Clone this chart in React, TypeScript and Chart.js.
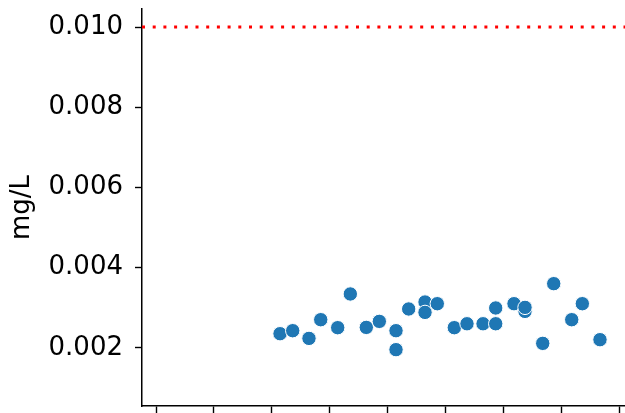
import React, { useEffect, useRef } from "react";
import { Chart, registerables } from "chart.js";

Chart.register(...registerables);

// x positions in tick units (unlabelled ticks at 0..8)
const X_VALUES = [
  2.142, 2.361, 2.642, 2.845, 3.138, 3.356, 3.632, 3.857, 4.145, 4.145,
  4.364, 4.646, 4.646, 4.858, 5.152, 5.371, 5.648, 5.867, 5.867, 6.183,
  6.373, 6.373, 6.679, 6.869, 7.18, 7.363, 7.668,
];
const Y_VALUES = [
  0.002356, 0.002431, 0.002239, 0.002705, 0.002506, 0.003346, 0.002513,
  0.002663, 0.002431, 0.001958, 0.002972, 0.003146, 0.002887, 0.003104,
  0.002506, 0.002604, 0.002604, 0.002997, 0.002604, 0.003104, 0.002912,
  0.003012, 0.002115, 0.003603, 0.002705, 0.003104, 0.002207,
];
const LIMIT = 0.01;
const X_TICKS = [0, 1, 2, 3, 4, 5, 6, 7, 8];
const Y_TICKS = [0.002, 0.004, 0.006, 0.008, 0.01];
const X_MIN = -0.242;
const X_MAX = 8.1;
const Y_MIN = 0.000554;
const Y_MAX = 0.010449;
const Y_LABEL = "mg/L";

const FONT = "'DejaVu Sans', sans-serif";

export default function App() {
  const ref = useRef<HTMLCanvasElement | null>(null);

  useEffect(() => {
    if (!ref.current) return;
    const points = X_VALUES.map((x, i) => ({ x, y: Y_VALUES[i] }));
    const chart = new Chart(ref.current, {
      type: "scatter",
      data: {
        datasets: [
          {
            type: "line",
            data: [
              { x: X_MIN, y: LIMIT },
              { x: X_MAX, y: LIMIT },
            ],
            borderColor: "#ff0000",
            borderWidth: 3,
            borderDash: [3, 7.7],
            borderCapStyle: "butt",
            pointRadius: 0,
            fill: false,
          } as any,
          {
            type: "scatter",
            data: points,
            backgroundColor: "#1f77b4",
            borderColor: "#ffffff",
            borderWidth: 1,
            pointRadius: 7.2,
            pointHoverRadius: 7.2,
          } as any,
        ],
      },
      options: {
        responsive: false,
        animation: false,
        events: [],
        layout: {
          autoPadding: false,
          padding: { top: 9, left: 0, right: 0, bottom: 0 },
        },
        plugins: {
          legend: { display: false },
          tooltip: { enabled: false },
        },
        scales: {
          x: {
            type: "linear",
            min: X_MIN,
            max: X_MAX,
            afterBuildTicks: (s: any) => {
              s.ticks = X_TICKS.map((v) => ({ value: v }));
            },
            afterFit: (s: any) => {
              s.height = 7;
              s.paddingLeft = 0;
              s.paddingRight = 0;
              s.paddingTop = 0;
              s.paddingBottom = 0;
            },
            ticks: { display: false },
            grid: {
              display: true,
              drawOnChartArea: false,
              drawTicks: true,
              tickLength: 7,
              tickColor: "#000000",
              tickWidth: 1.4,
            },
            border: { display: true, color: "#000000", width: 1.5 },
          },
          y: {
            type: "linear",
            min: Y_MIN,
            max: Y_MAX,
            afterBuildTicks: (s: any) => {
              s.ticks = Y_TICKS.map((v) => ({ value: v }));
            },
            afterFit: (s: any) => {
              s.width = 142;
              s.paddingTop = 0;
              s.paddingBottom = 0;
              s.paddingLeft = 0;
              s.paddingRight = 0;
            },
            ticks: {
              padding: 12,
              color: "#000000",
              font: { family: FONT, size: 26 },
              callback: (v: any) => Number(v).toFixed(3),
            },
            grid: {
              display: true,
              drawOnChartArea: false,
              drawTicks: true,
              tickLength: 7,
              tickColor: "#000000",
              tickWidth: 1.4,
            },
            border: { display: true, color: "#000000", width: 1.5 },
            title: {
              display: true,
              text: Y_LABEL,
              color: "#000000",
              font: { family: FONT, size: 26 },
              padding: { top: 7, bottom: 0 },
            },
          },
        },
      },
    });
    return () => chart.destroy();
  }, []);

  return (
    <div
      style={{
        position: "absolute",
        left: 0,
        top: 0,
        width: 625,
        height: 413,
        background: "#ffffff",
      }}
    >
      <canvas ref={ref} width={625} height={413} />
    </div>
  );
}
